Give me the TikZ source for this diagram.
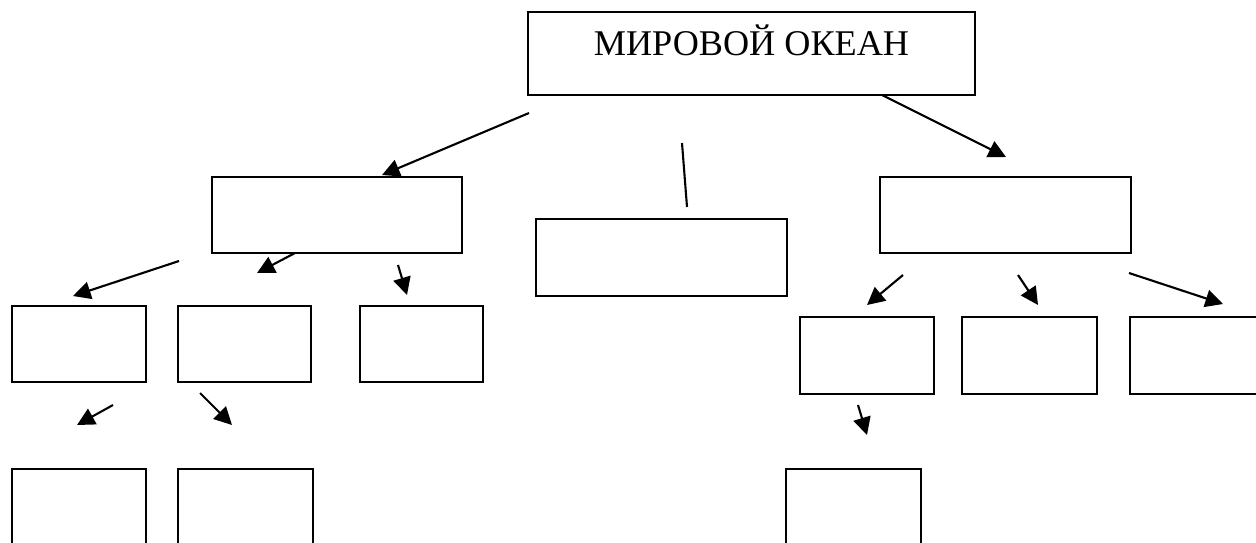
\documentclass[tikz,border=0pt]{standalone}
\usepackage{fontspec}
\setmainfont{Liberation Serif}
\usetikzlibrary{arrows.meta}
\definecolor{ink}{HTML}{000000}

\tikzset{
  box/.style={draw=ink, line width=0.8pt, fill=white, inner sep=0pt},
  arr/.style={ink, line width=1.2pt, -{Triangle[length=10pt,width=10pt]}},
}

\begin{document}
\begin{tikzpicture}[x=0.02cm, y=-0.02cm]
        \useasboundingbox (0,0) rectangle (1256,542);
        % top
        \node[box, minimum width=8.94cm, text height=0.86cm, text depth=0.80cm,
              font=\fontsize{20.6}{24}\selectfont] (ocean) at (751.5,53.5) {МИРОВОЙ ОКЕАН};
        % second row
        \node[box, minimum width=5.00cm, minimum height=1.52cm] (left) at (337,215) {};
        \node[box, minimum width=5.02cm, minimum height=1.54cm] (mid) at (661.5,257.5) {};
        \node[box, minimum width=5.02cm, minimum height=1.52cm] (right) at (1005.5,215) {};
        % third row
        \node[box, minimum width=2.68cm, minimum height=1.52cm] (l1) at (79,344) {};
        \node[box, minimum width=2.66cm, minimum height=1.52cm] (l2) at (244.5,344) {};
        \node[box, minimum width=2.46cm, minimum height=1.52cm] (l3) at (421.5,344) {};
        \node[box, minimum width=2.68cm, minimum height=1.54cm] (r1) at (867,355.5) {};
        \node[box, minimum width=2.70cm, minimum height=1.54cm] (r2) at (1029.5,355.5) {};
        \node[box, minimum width=2.70cm, minimum height=1.54cm] (r3) at (1197.5,355.5) {};
        % fourth row
        \node[box, minimum width=2.68cm, minimum height=1.52cm] (l11) at (79,507) {};
        \node[box, minimum width=2.70cm, minimum height=1.52cm] (l21) at (245.5,507) {};
        \node[box, minimum width=2.70cm, minimum height=1.52cm] (r11) at (853.5,507) {};

        % arrow ends
        \coordinate (ocean-l) at (529,113);   \coordinate (left-t) at (382,175);
        \coordinate (ocean-r) at (882,95);    \coordinate (right-t) at (1006,157);
        \coordinate (mid-a) at (682,143);     \coordinate (mid-b) at (687,207);
        \coordinate (left-a) at (179,261);    \coordinate (l1-t) at (73,296);
        \coordinate (left-b) at (295,253);    \coordinate (l2-t) at (257,273);
        \coordinate (left-c) at (398,265);    \coordinate (l3-t) at (407,295);
        \coordinate (right-a) at (903,275);   \coordinate (r1-t) at (867,305);
        \coordinate (right-b) at (1018,275);  \coordinate (r2-t) at (1038,305);
        \coordinate (right-c) at (1129,273);  \coordinate (r3-t) at (1223,304);
        \coordinate (l1-b) at (113,405);      \coordinate (l11-t) at (77,425);
        \coordinate (l2-b) at (200,393);      \coordinate (l21-t) at (232,425);
        \coordinate (r1-b) at (858,405);      \coordinate (r11-t) at (867,435);

        \draw[arr] (ocean-l) -- (left-t);
        \draw[arr] (ocean-r) -- (right-t);
        \draw[ink, line width=1.2pt] (mid-a) -- (mid-b);
        \draw[arr] (left-a) -- (l1-t);
        \draw[arr] (left-b) -- (l2-t);
        \draw[arr] (left-c) -- (l3-t);
        \draw[arr] (right-a) -- (r1-t);
        \draw[arr] (right-b) -- (r2-t);
        \draw[arr] (right-c) -- (r3-t);
        \draw[arr] (l1-b) -- (l11-t);
        \draw[arr] (l2-b) -- (l21-t);
        \draw[arr] (r1-b) -- (r11-t);
      \end{tikzpicture}
\end{document}
